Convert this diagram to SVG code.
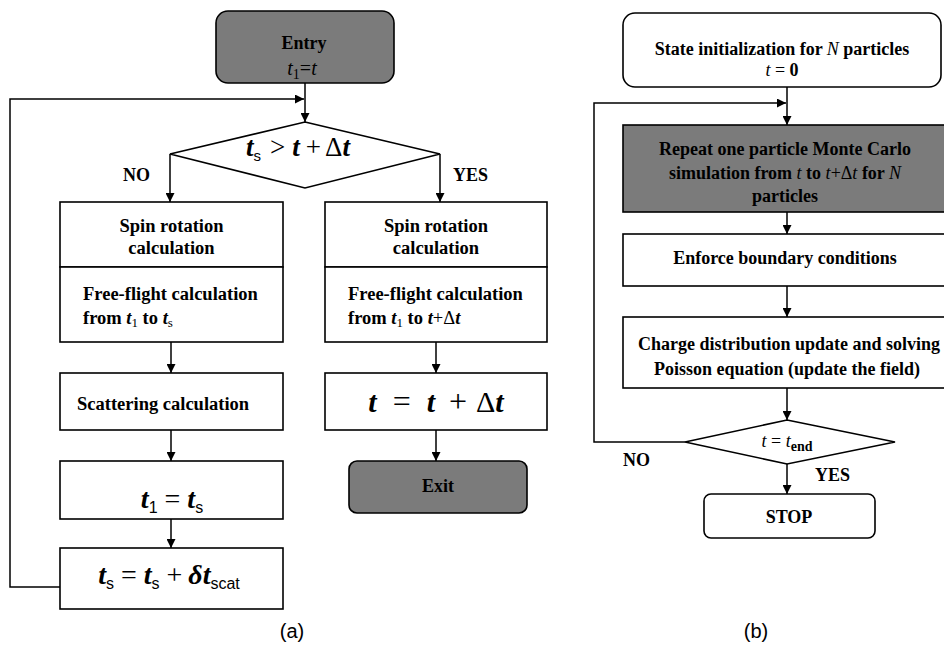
<svg xmlns="http://www.w3.org/2000/svg" width="944" height="646" viewBox="0 0 944 646">
<defs>
<marker id="ah" viewBox="0 0 10 10" refX="10" refY="5" markerWidth="9" markerHeight="9" markerUnits="userSpaceOnUse" orient="auto">
<path d="M0,0 L10,5 L0,10 Z" fill="#000"/>
</marker>
<style>
.box{fill:#fff;stroke:#000;stroke-width:1.6}
.gray{fill:#7b7b7b;stroke:#000;stroke-width:1.6}
.arr{fill:none;stroke:#000;stroke-width:1.5;marker-end:url(#ah)}
.b{font-weight:bold}
.i{font-style:italic}
.bi{font-style:italic;font-weight:bold}
.n{font-weight:normal;font-style:normal}
</style>
</defs>

<g id="connectors">
<path class="arr" d="M305,83 V122"/>
<path class="arr" d="M60,587 H10 V99 H304"/>
<path class="arr" d="M170,154 V202"/>
<path class="arr" d="M440,154 V202"/>
<path class="arr" d="M171,342 V373"/>
<path class="arr" d="M436,342 V373"/>
<path class="arr" d="M171,430 V461"/>
<path class="arr" d="M436,430 V461"/>
<path class="arr" d="M171,519 V548"/>
<path class="arr" d="M787,87 V125"/>
<path class="arr" d="M685,442 H594 V103 H786"/>
<path class="arr" d="M787,212 V234"/>
<path class="arr" d="M787,286 V317"/>
<path class="arr" d="M787,388 V420"/>
<path class="arr" d="M787,464 V494"/>
</g>

<g id="entry">
<rect class="gray" x="216" y="11" width="178" height="72" rx="12"/>
<text class="b" font-family="Liberation Serif, serif" x="304" y="49" text-anchor="middle" font-size="18">Entry</text>
<text font-family="Liberation Serif, serif" x="302" y="75" text-anchor="middle" font-size="20"><tspan class="i">t</tspan><tspan font-size="14" dy="4">1</tspan><tspan dy="-4">=</tspan><tspan class="i">t</tspan></text>
</g>

<g id="decision-a">
<polygon class="box" points="305,122 440,154 305,188 170,154"/>
<text font-family="Liberation Serif, serif" x="298" y="156" text-anchor="middle" font-size="27"><tspan class="bi">t</tspan><tspan font-family="Liberation Sans, sans-serif" font-size="15" dy="5">s</tspan><tspan dx="9" dy="-5">&gt;</tspan><tspan class="bi" dx="7">t</tspan><tspan dx="6">+</tspan><tspan dx="4">Δ</tspan><tspan class="bi">t</tspan></text>
<text class="b" font-family="Liberation Serif, serif" x="123" y="181" font-size="18">NO</text>
<text class="b" font-family="Liberation Serif, serif" x="453" y="181" font-size="18">YES</text>
</g>

<g id="spin-left">
<rect class="box" x="60" y="202" width="223" height="65"/>
<text class="b" font-family="Liberation Serif, serif" x="171.5" y="232" text-anchor="middle" font-size="18.5">Spin rotation</text>
<text class="b" font-family="Liberation Serif, serif" x="171.5" y="254" text-anchor="middle" font-size="18.5">calculation</text>
</g>
<g id="freeflight-left">
<rect class="box" x="60" y="267" width="223" height="75"/>
<text class="b" font-family="Liberation Serif, serif" x="83" y="300" font-size="18.5">Free-flight calculation</text>
<text class="b" font-family="Liberation Serif, serif" x="83" y="324" font-size="18.5">from <tspan class="bi">t</tspan><tspan class="n" font-size="13" dy="3">1</tspan><tspan dy="-3"> to </tspan><tspan class="bi">t</tspan><tspan class="n" font-size="13" dy="3">s</tspan></text>
</g>
<g id="scattering">
<rect class="box" x="60" y="373" width="223" height="57"/>
<text class="b" font-family="Liberation Serif, serif" x="77" y="410" font-size="18.5">Scattering calculation</text>
</g>
<g id="t1-eq">
<rect class="box" x="60" y="461" width="223" height="58"/>
<text font-family="Liberation Serif, serif" x="172" y="508" text-anchor="middle" font-size="28"><tspan class="bi">t</tspan><tspan font-family="Liberation Sans, sans-serif" font-size="16" dy="5">1</tspan><tspan dx="7" dy="-5">=</tspan><tspan class="bi" dx="7">t</tspan><tspan font-family="Liberation Sans, sans-serif" font-size="16" dy="5">s</tspan></text>
</g>
<g id="ts-eq">
<rect class="box" x="60" y="548" width="223" height="61"/>
<text font-family="Liberation Serif, serif" x="169" y="584" text-anchor="middle" font-size="28"><tspan class="bi">t</tspan><tspan font-family="Liberation Sans, sans-serif" font-size="16" dy="5">s</tspan><tspan dx="7" dy="-5">=</tspan><tspan class="bi" dx="7">t</tspan><tspan font-family="Liberation Sans, sans-serif" font-size="16" dy="5">s</tspan><tspan dx="7" dy="-5">+</tspan><tspan class="bi" dx="6">δt</tspan><tspan font-family="Liberation Sans, sans-serif" font-size="16" dy="5">scat</tspan></text>
</g>

<g id="spin-right">
<rect class="box" x="325" y="202" width="222" height="65"/>
<text class="b" font-family="Liberation Serif, serif" x="436" y="232" text-anchor="middle" font-size="18.5">Spin rotation</text>
<text class="b" font-family="Liberation Serif, serif" x="436" y="254" text-anchor="middle" font-size="18.5">calculation</text>
</g>
<g id="freeflight-right">
<rect class="box" x="325" y="267" width="222" height="75"/>
<text class="b" font-family="Liberation Serif, serif" x="348" y="300" font-size="18.5">Free-flight calculation</text>
<text class="b" font-family="Liberation Serif, serif" x="348" y="324" font-size="18.5">from <tspan class="bi">t</tspan><tspan class="n" font-size="13" dy="3">1</tspan><tspan dy="-3"> to </tspan><tspan class="bi">t</tspan><tspan class="n">+Δ</tspan><tspan class="bi">t</tspan></text>
</g>
<g id="t-update">
<rect class="box" x="325" y="373" width="222" height="57"/>
<text font-family="Liberation Serif, serif" x="436" y="412" text-anchor="middle" font-size="30"><tspan class="bi">t</tspan><tspan dx="16" font-size="32">=</tspan><tspan class="bi" dx="16">t</tspan><tspan dx="14" font-size="32">+</tspan><tspan dx="9">Δ</tspan><tspan class="bi">t</tspan></text>
</g>
<g id="exit">
<rect class="gray" x="349" y="461" width="178" height="52" rx="8"/>
<text class="b" font-family="Liberation Serif, serif" x="438" y="492" text-anchor="middle" font-size="18">Exit</text>
</g>

<g id="state-init">
<rect class="box" x="623" y="13" width="318" height="74" rx="12"/>
<text class="b" font-family="Liberation Serif, serif" x="782" y="55" text-anchor="middle" font-size="18">State initialization for <tspan class="i" font-weight="normal">N</tspan> particles</text>
<text font-family="Liberation Serif, serif" x="782" y="76" text-anchor="middle" font-size="18"><tspan class="i">t</tspan> = <tspan class="b">0</tspan></text>
</g>
<g id="repeat">
<rect class="gray" x="623" y="125" width="322" height="87"/>
<text class="b" font-family="Liberation Serif, serif" x="785" y="155" text-anchor="middle" font-size="18">Repeat one particle Monte Carlo</text>
<text class="b" font-family="Liberation Serif, serif" x="785" y="179" text-anchor="middle" font-size="18">simulation from <tspan class="i" font-weight="normal">t</tspan> to <tspan class="i" font-weight="normal">t</tspan><tspan font-weight="normal">+Δ</tspan><tspan class="i" font-weight="normal">t</tspan> for <tspan class="i" font-weight="normal">N</tspan></text>
<text class="b" font-family="Liberation Serif, serif" x="785" y="202" text-anchor="middle" font-size="18">particles</text>
</g>
<g id="boundary">
<rect class="box" x="623" y="234" width="322" height="52"/>
<text class="b" font-family="Liberation Serif, serif" x="785" y="264" text-anchor="middle" font-size="18">Enforce boundary conditions</text>
</g>
<g id="charge">
<rect class="box" x="623" y="317" width="322" height="71"/>
<text class="b" font-family="Liberation Serif, serif" x="789" y="350" text-anchor="middle" font-size="18">Charge distribution update and solving</text>
<text class="b" font-family="Liberation Serif, serif" x="787" y="375" text-anchor="middle" font-size="18">Poisson equation (update the field)</text>
</g>
<g id="decision-b">
<polygon class="box" points="787,420 895,442 787,464 685,442"/>
<text font-family="Liberation Serif, serif" x="787" y="447" text-anchor="middle" font-size="18"><tspan class="i">t</tspan> = <tspan class="i">t</tspan><tspan font-size="14" font-weight="bold" dy="4">end</tspan></text>
<text class="b" font-family="Liberation Serif, serif" x="623" y="466" font-size="18">NO</text>
<text class="b" font-family="Liberation Serif, serif" x="815" y="481" font-size="18">YES</text>
</g>
<g id="stop">
<rect class="box" x="704" y="494" width="171" height="44" rx="7"/>
<text class="b" font-family="Liberation Serif, serif" x="789" y="523" text-anchor="middle" font-size="18">STOP</text>
</g>

<text x="292" y="638" text-anchor="middle" font-family="Liberation Sans, sans-serif" font-size="20">(a)</text>
<text x="756" y="638" text-anchor="middle" font-family="Liberation Sans, sans-serif" font-size="20">(b)</text>
</svg>
